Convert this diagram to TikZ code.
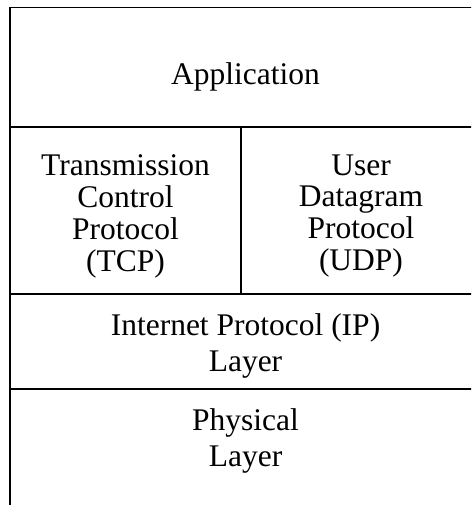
\documentclass[tikz,border=0pt]{standalone}
\usepackage{fontspec}
\setmainfont{Liberation Serif}
\begin{document}
\begin{tikzpicture}[x=1pt,y=-1pt,
  rule/.style={line width=1.8pt,black},
  lbl/.style={inner sep=0pt,align=center,anchor=north},
  lblA/.style={lbl,font=\fontsize{31.5}{31}\selectfont},
  lblB/.style={lbl,font=\fontsize{31.5}{36.6}\selectfont}]
\useasboundingbox (0,0) rectangle (471,505);
\clip (0,0) rectangle (471,505);
% frame coordinates
\coordinate (tl) at (10,7.5);
\coordinate (tr) at (481,7.5);
\coordinate (bl) at (10,506);
\coordinate (l1) at (10,127);
\coordinate (r1) at (481,127);
\coordinate (l2) at (10,294);
\coordinate (r2) at (481,294);
\coordinate (l3) at (10,389);
\coordinate (r3) at (481,389);
\coordinate (m1) at (241,127);
\coordinate (m2) at (241,294);
% rules
\draw[rule] (tr) -- (tl) -- (bl);
\draw[rule] (l1) -- (r1);
\draw[rule] (l2) -- (r2);
\draw[rule] (l3) -- (r3);
\draw[rule] (m1) -- (m2);
% labels
\node[lblA,anchor=base] (app) at (245.5,85) {Application};
\node[lblA] (tcp) at (125.5,153.3) {\strut Transmission\\\strut Control\\\strut Protocol\\\strut (TCP)};
\node[lblA] (udp) at (361,153.3) {\strut User\\\strut Datagram\\\strut Protocol\\\strut (UDP)};
\node[lblB] (ip) at (245.5,309.4) {\strut Internet Protocol (IP)\\\strut Layer};
\node[lblB] (phy) at (245.5,404.3) {\strut Physical\\\strut Layer};
\end{tikzpicture}
\end{document}
